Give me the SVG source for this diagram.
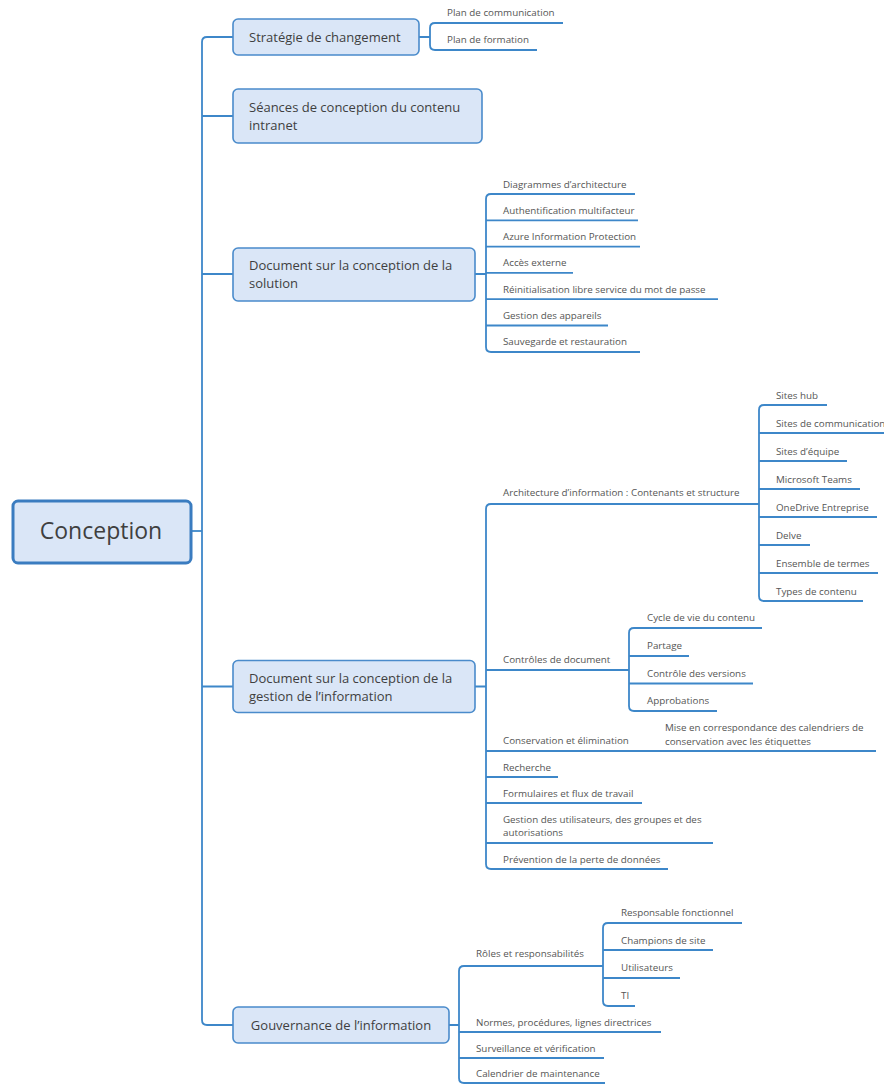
<svg xmlns="http://www.w3.org/2000/svg" width="884" height="1084" viewBox="0 0 884 1084">
<style>
.ln{fill:none;stroke:#3d87c9;stroke-width:1.8;stroke-linecap:butt}
.box{fill:#dae6f7;stroke:#4a8bcb;stroke-width:1.6}
.root{fill:#dae6f7;stroke:#3a7cc0;stroke-width:3}
.t1{font-family:"Open Sans","Noto Sans",sans-serif;font-size:13px;fill:#3f3f3f}
.t0{font-family:"Open Sans","Noto Sans",sans-serif;font-size:23px;fill:#3f3f3f}
.t2{font-family:"Open Sans","Noto Sans",sans-serif;font-size:9.8px;fill:#555}
</style>
<rect width="884" height="1084" fill="#fff"/>
<g id="connectors">
<path class="ln" d="M192,531 H202"/>
<path class="ln" d="M233,37 H207 Q202,37 202,42 V1020 Q202,1025 207,1025 H233"/>
<path class="ln" d="M202,116 H233 M202,274 H233 M202,686.5 H233"/>
<path class="ln" d="M419,37 H430 M563,23 H435 Q430,23 430,28 V45 Q430,50 435,50 H537"/>
<path class="ln" d="M475,274 H486 M635,194 H491 Q486,194 486,199 V347 Q486,352 491,352 H640 M486,220.3 H638 M486,246.6 H640 M486,272.9 H573 M486,299.2 H718 M486,325.5 H608"/>
<path class="ln" d="M475,686.5 H486 M759,504 H491 Q486,504 486,509 V864 Q486,869 491,869 H668 M486,670 H629 M486,751 H876 M486,777 H558 M486,803 H642 M486,843 H713"/>
<path class="ln" d="M827,405 H764 Q759,405 759,410 V596 Q759,601 764,601 H863 M759,433 H884 M759,461 H847 M759,489 H860 M759,517 H877 M759,545 H810 M759,573 H878"/>
<path class="ln" d="M762,628 H634 Q629,628 629,633 V706 Q629,711 634,711 H717 M629,656 H689 M629,683.5 H753"/>
<path class="ln" d="M449,1025 H459 M603,966 H464 Q459,966 459,971 V1078 Q459,1083 464,1083 H605 M459,1032 H661 M459,1058 H604"/>
<path class="ln" d="M742,923 H608 Q603,923 603,928 V1001 Q603,1006 608,1006 H635 M603,950 H713 M603,978 H680"/>
</g>
<g id="root"><rect class="root" x="13" y="501" width="178" height="62" rx="5"/><text class="t0" x="101" y="539" text-anchor="middle">Conception</text></g>
<g id="strategie"><rect class="box" x="233" y="19" width="186" height="36" rx="5"/><text class="t1" x="249" y="42">Stratégie de changement</text></g>
<g id="seances"><rect class="box" x="233" y="89" width="249" height="54" rx="5"/><text class="t1" x="249" y="112">Séances de conception du contenu</text><text class="t1" x="249" y="130">intranet</text></g>
<g id="solution"><rect class="box" x="233" y="248" width="242" height="53" rx="5"/><text class="t1" x="249" y="270">Document sur la conception de la</text><text class="t1" x="249" y="288">solution</text></g>
<g id="gestion"><rect class="box" x="233" y="660.5" width="242" height="52" rx="5"/><text class="t1" x="249" y="682.5">Document sur la conception de la</text><text class="t1" x="249" y="700.5">gestion de l’information</text></g>
<g id="gouvernance"><rect class="box" x="233" y="1007" width="216" height="36" rx="5"/><text class="t1" x="341" y="1029.5" text-anchor="middle">Gouvernance de l’information</text></g>
<g id="plan-comm"><text class="t2" x="447" y="16">Plan de communication</text></g>
<g id="plan-form"><text class="t2" x="447" y="43">Plan de formation</text></g>
<g id="diag"><text class="t2" x="503" y="187.5">Diagrammes d’architecture</text></g>
<g id="auth"><text class="t2" x="503" y="213.8">Authentification multifacteur</text></g>
<g id="aip"><text class="t2" x="503" y="240.1">Azure Information Protection</text></g>
<g id="acces"><text class="t2" x="503" y="266.4">Accès externe</text></g>
<g id="reinit"><text class="t2" x="503" y="292.7">Réinitialisation libre service du mot de passe</text></g>
<g id="appareils"><text class="t2" x="503" y="319">Gestion des appareils</text></g>
<g id="sauvegarde"><text class="t2" x="503" y="345.3">Sauvegarde et restauration</text></g>
<g id="archi"><text class="t2" x="503" y="496">Architecture d’information : Contenants et structure</text></g>
<g id="hub"><text class="t2" x="776" y="398.5">Sites hub</text></g>
<g id="comm"><text class="t2" x="776" y="426.5">Sites de communication</text></g>
<g id="equipe"><text class="t2" x="776" y="454.5">Sites d’équipe</text></g>
<g id="teams"><text class="t2" x="776" y="482.5">Microsoft Teams</text></g>
<g id="onedrive"><text class="t2" x="776" y="510.5">OneDrive Entreprise</text></g>
<g id="delve"><text class="t2" x="776" y="538.5">Delve</text></g>
<g id="termes"><text class="t2" x="776" y="566.5">Ensemble de termes</text></g>
<g id="types"><text class="t2" x="776" y="594.5">Types de contenu</text></g>
<g id="controles"><text class="t2" x="503" y="663">Contrôles de document</text></g>
<g id="cycle"><text class="t2" x="647" y="621">Cycle de vie du contenu</text></g>
<g id="partage"><text class="t2" x="647" y="649">Partage</text></g>
<g id="versions"><text class="t2" x="647" y="677">Contrôle des versions</text></g>
<g id="approb"><text class="t2" x="647" y="704">Approbations</text></g>
<g id="conservation"><text class="t2" x="503" y="744">Conservation et élimination</text></g>
<g id="mise"><text class="t2" x="665" y="731">Mise en correspondance des calendriers de</text><text class="t2" x="665" y="744.5">conservation avec les étiquettes</text></g>
<g id="recherche"><text class="t2" x="503" y="770.5">Recherche</text></g>
<g id="formulaires"><text class="t2" x="503" y="796.5">Formulaires et flux de travail</text></g>
<g id="utilisateurs-gr"><text class="t2" x="503" y="822.5">Gestion des utilisateurs, des groupes et des</text><text class="t2" x="503" y="836">autorisations</text></g>
<g id="prevention"><text class="t2" x="503" y="862.5">Prévention de la perte de données</text></g>
<g id="roles"><text class="t2" x="476" y="957">Rôles et responsabilités</text></g>
<g id="respfonc"><text class="t2" x="621" y="916">Responsable fonctionnel</text></g>
<g id="champions"><text class="t2" x="621" y="943.5">Champions de site</text></g>
<g id="utilisateurs"><text class="t2" x="621" y="971">Utilisateurs</text></g>
<g id="ti"><text class="t2" x="621" y="999">TI</text></g>
<g id="normes"><text class="t2" x="476" y="1025.5">Normes, procédures, lignes directrices</text></g>
<g id="surveillance"><text class="t2" x="476" y="1051.5">Surveillance et vérification</text></g>
<g id="calendrier"><text class="t2" x="476" y="1077">Calendrier de maintenance</text></g>
</svg>
